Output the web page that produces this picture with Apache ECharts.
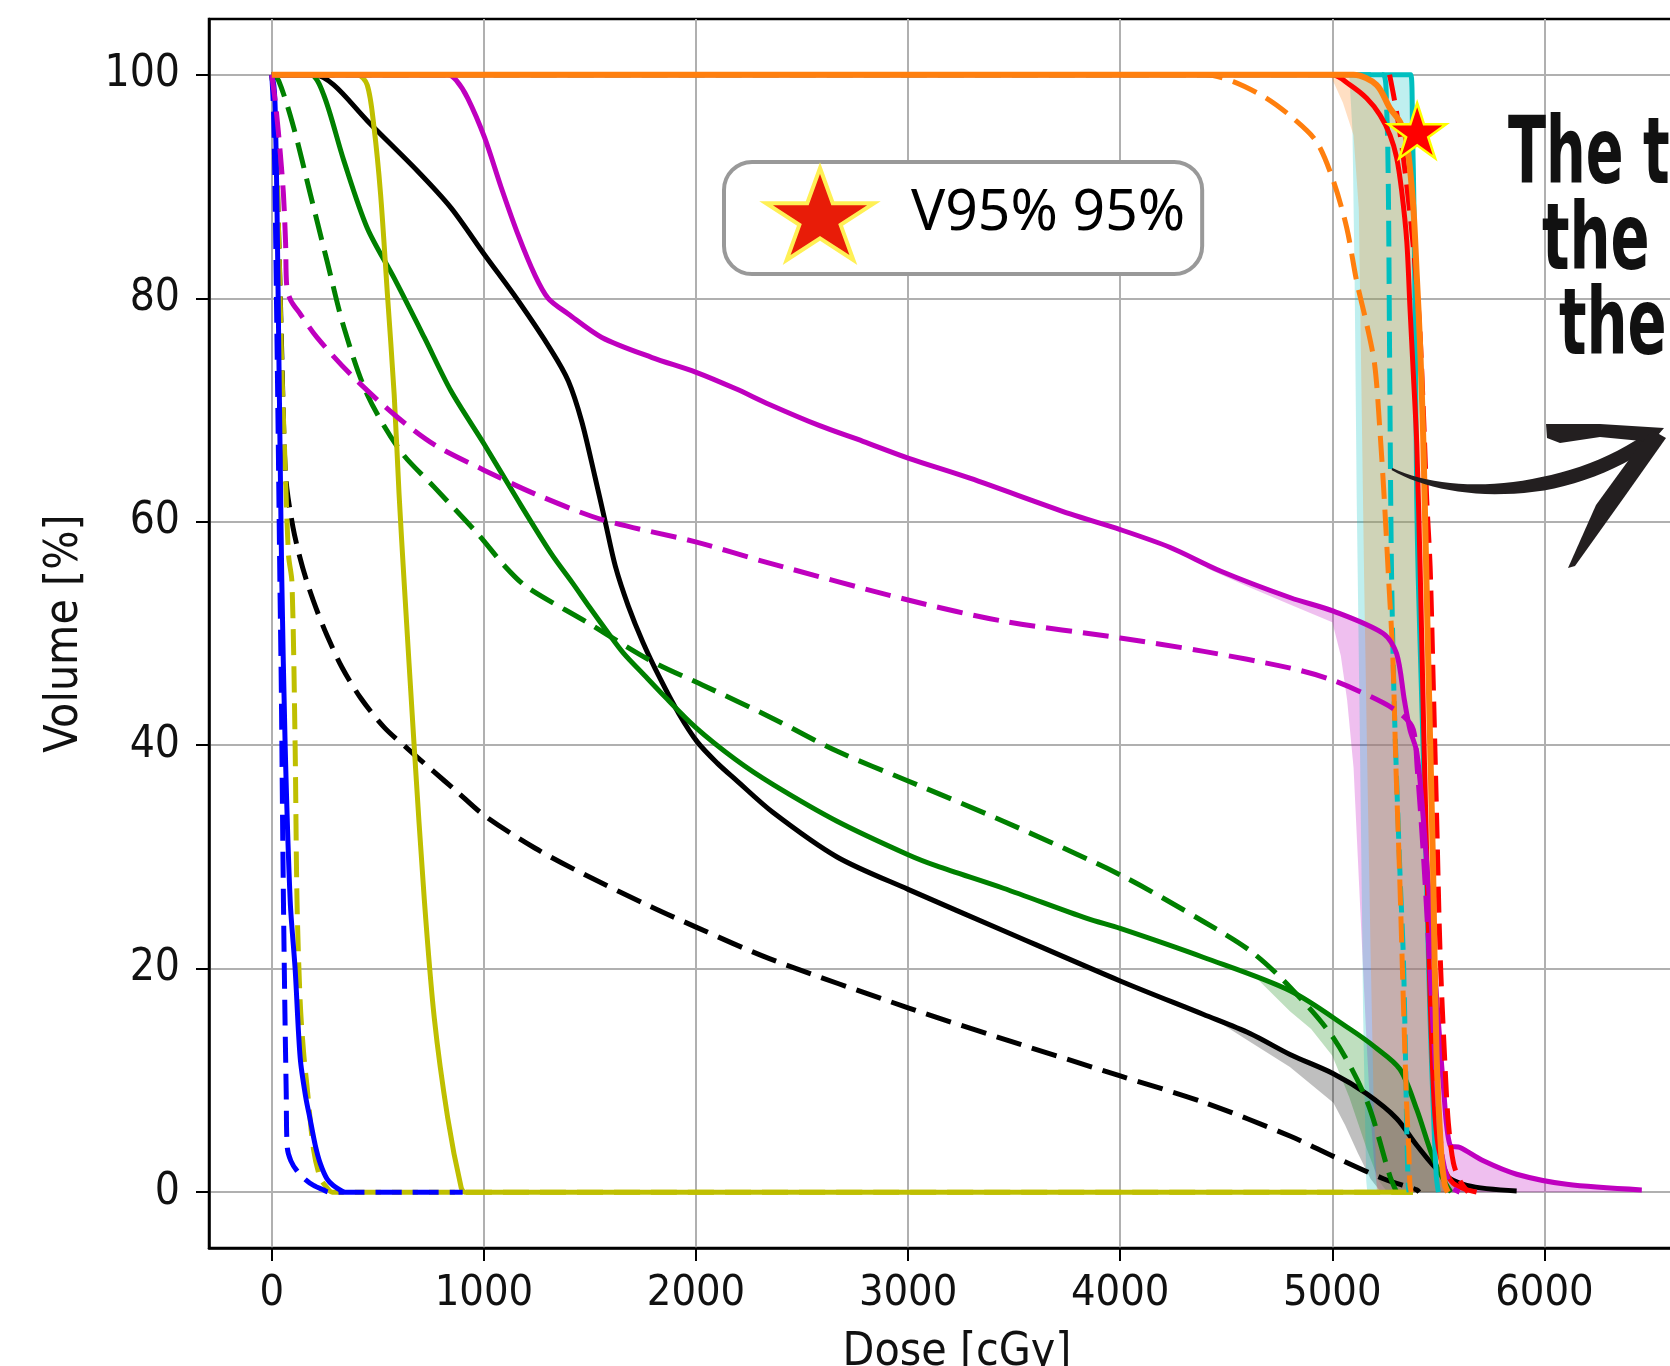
<!DOCTYPE html>
<html>
<head>
<meta charset="utf-8">
<script src="https://cdn.jsdelivr.net/npm/echarts@6/dist/echarts.min.js"></script>
<style>
  html, body { margin: 0; padding: 0; background: #fff; }
  #chart { width: 1670px; height: 1366px; }
</style>
</head>
<body>
<div id="chart"></div>
<script>
// Dose-volume histogram: dose [cGy] vs volume [%]
const xTicks = [0, 1000, 2000, 3000, 4000, 5000, 6000];
const yTicks = [0, 20, 40, 60, 80, 100];

const blueSolid = [[0,100],[10,99],[16,97],[24,89],[32,77],[40,65],[47,55],[63,40],[87,26],[110,20],[134,12],[160,8.5],[181,6.5],[205,4.2],[228,2.6],[260,1.2],[290,0.6],[340,0]];
const blueDashed = [[0,100],[8,97],[15,90],[22,80],[30,68],[38,55],[45,45],[50,35],[55,26],[62,16],[68,9],[73,4],[90,2.8],[119,1.9],[160,1.1],[197,0.6],[244,0.2],[270,0],[900,0]];
const yellowSolid = [[0,100],[403,100],[450,99.1],[482,95.3],[513,89.3],[545,80.4],[577,71.4],[600,62.5],[624,54.6],[671,40],[719,26.2],[766,15.6],[829,6.7],[893,0.4],[910,0],[5380,0]];
const yellowDashed = [[0,100],[15,97],[32,86],[47,74],[63,65],[79,57],[95,54.6],[110,40],[119,26],[134,17],[150,12.5],[166,9.5],[197,3.8],[228,1.3],[260,0.4],[285,0],[5380,0]];
const blackSolid = [[0,100],[197,100],[292,99.1],[450,95.9],[687,91.4],[845,88.1],[1003,83.9],[1161,79.8],[1319,75.3],[1398,72.6],[1461,69],[1524,64],[1572,60],[1620,56],[1680,52.5],[1750,49.2],[1830,46],[1920,42.8],[2006,40.3],[2100,38.4],[2188,36.9],[2362,34],[2665,30],[3000,27.1],[3450,23.4],[4000,18.9],[4393,15.9],[4612,14.2],[4803,12.3],[5005,10.6],[5162,8.8],[5303,6.6],[5398,4.2],[5508,1.8],[5634,0.6],[5869,0.1]];
const blackDashed = [[0,100],[15,97],[32,86],[47,75],[60,66],[71,63],[100,59.5],[130,57],[166,54.6],[210,52.2],[261,49.8],[330,47],[420,44.2],[530,41.6],[640,39.7],[760,37.7],[870,35.9],[1003,33.7],[1240,30.8],[1477,28.4],[1793,25.5],[2003,23.7],[2346,20.9],[3000,16.5],[3500,13.4],[4000,10.4],[4400,8],[4803,5],[5005,3.2],[5241,1.2],[5398,0.2],[5410,0]];
const greenSolid = [[0,100],[182,100],[245,98.2],[340,92.3],[450,86.3],[577,81.8],[719,76.5],[845,71.7],[1003,66.9],[1161,61.9],[1319,57.1],[1415,54.6],[1500,52.3],[1580,50.2],[1660,48.2],[1750,46.4],[1850,44.4],[1998,41.6],[2188,38.7],[2362,36.5],[2665,33.2],[3000,30.2],[3134,29.2],[3449,27.2],[3843,24.5],[4000,23.6],[4394,21],[4803,18],[5083,14.6],[5200,13],[5319,11],[5398,7.4],[5476,3],[5539,0.6],[5560,0]];
const greenDashed = [[0,100],[32,99.5],[103,95.3],[182,89.3],[261,83.3],[340,77.4],[450,71.4],[608,66.3],[766,63.1],[972,58.9],[1100,56],[1200,54.2],[1477,51.1],[1793,47.5],[2030,45.4],[2362,42.4],[2661,39.5],[3000,36.8],[3449,33.2],[4000,28.4],[4394,24.2],[4620,21.5],[4803,18.3],[5005,13.8],[5162,8.2],[5272,1.4],[5303,0]];
const magentaSolid = [[0,100],[830,100],[870,99.5],[924,97.9],[1003,94.4],[1082,89.9],[1161,85.7],[1240,82.1],[1303,80],[1398,78.6],[1556,76.5],[1793,74.7],[1998,73.4],[2188,71.9],[2346,70.5],[2583,68.6],[2787,67.2],[3000,65.7],[3291,63.9],[3764,60.7],[4000,59.3],[4236,57.7],[4472,55.6],[4803,53.2],[5005,52],[5240,50],[5303,48.2],[5340,44],[5366,41.4],[5398,39.4],[5429,33.4],[5461,25.4],[5492,17.4],[5524,9.4],[5555,4.2],[5602,4],[5712,2.8],[5869,1.6],[6105,0.7],[6459,0.2]];
const magentaDashed = [[0,100],[20,97],[40,93],[55,89.3],[65,85],[71,81],[90,79.8],[134,78.6],[213,76.5],[371,73.2],[577,69.6],[766,66.9],[1003,64.6],[1240,62.5],[1556,60.2],[1998,58.2],[2346,56.3],[3000,53],[3449,51.1],[4000,49.6],[4394,48.4],[4803,46.9],[5005,45.8],[5240,43.8],[5335,42.6],[5382,41.4],[5400,38],[5430,30],[5460,20],[5490,10],[5520,3],[5560,0.5],[5600,0]];
const redSolid = [[0,100],[5000,100],[5083,99.1],[5162,97.9],[5225,96.4],[5272,94.6],[5303,92.6],[5327,89.6],[5351,85.1],[5366,79.2],[5382,73.2],[5398,67],[5415,55],[5430,42],[5445,30],[5460,18],[5480,8],[5500,4],[5530,2],[5570,0.8],[5620,0.3],[5680,0]];
const redDashed = [[5270,100],[5300,97],[5335,92.6],[5380,85],[5410,78],[5429,70],[5445,62],[5461,56],[5476,45.4],[5492,33.4],[5508,21.4],[5531,11.4],[5547,6.2],[5571,2.6],[5602,1],[5640,0]];
const cyanSolid = [[0,100],[5370,100],[5378,95],[5385,88],[5392,75],[5398,62],[5405,55],[5420,45],[5435,35],[5448,25],[5460,16],[5475,8],[5490,1.5],[5500,0]];
const cyanDashed = [[0,100],[5240,100],[5256,97],[5264,90],[5270,75],[5278,57],[5290,45],[5303,37],[5320,28],[5335,21],[5345,12],[5351,5.4],[5358,0.6],[5362,0]];
const orangeSolid = [[0,100],[5100,100],[5209,99.1],[5272,97],[5319,95.8],[5351,94],[5382,88.1],[5398,82.1],[5413,76.2],[5429,67.3],[5440,58],[5459,42],[5475,29],[5491,12.5],[5514,3.3],[5530,0.7],[5545,0]];
const orangeDashed = [[0,100],[4400,100],[4533,99.4],[4690,97.9],[4816,96.1],[4926,94],[5005,90.5],[5068,86.3],[5115,81.5],[5162,77.7],[5200,74],[5225,68],[5245,62],[5265,55],[5285,48],[5300,38],[5318,28],[5335,17],[5350,8],[5360,4],[5366,0.6],[5372,0]];

// lower edges of the spread bands (upper edges follow the solid curves)
const magentaBandLow = [[4400,55.9],[4600,54.2],[4800,52.6],[5000,51],[5040,48],[5070,44],[5100,38],[5120,30],[5140,22],[5160,14],[5180,7],[5200,2],[5215,0],[6459,0]];
const greenBandLow = [[4650,19],[4800,16.2],[4900,14.6],[5000,12.2],[5080,8.5],[5160,4],[5220,1],[5260,0],[5560,0]];
const blackBandLow = [[4450,15.4],[4600,13.6],[4800,11.2],[5005,8],[5060,6],[5120,3.5],[5180,1.2],[5230,0],[5869,0]];
const cyanBandLow = [[5080,100],[5095,95],[5105,82],[5115,62],[5129,42],[5140,25],[5145,16],[5160,1],[5165,0]];
const orangeBandLow = [[4990,100],[5050,97.5],[5100,94.6],[5125,88],[5135,75],[5150,55],[5165,38],[5180,22],[5195,8],[5210,0]];

// V95% marker
const v95Point = [[5400, 95]];

const starPath = 'path://M50,0L61.23,34.55L97.55,34.55L68.17,55.9L79.39,90.45L50,69.1L20.61,90.45L31.83,55.9L2.45,34.55L38.77,34.55Z';

const C = {
  blue: '#0000ff', green: '#008000', red: '#ff0000', cyan: '#00bfbf',
  magenta: '#bf00bf', yellow: '#bfbf00', black: '#000000', orange: '#ff7f0e'
};

const LABEL_FONT = "'DejaVu Sans Condensed', 'DejaVu Sans', sans-serif";

function band(name, low, high, color) {
  const poly = low.concat(high.slice().reverse());
  return {
    type: 'custom', name: name, silent: true, clip: true,
    data: [low[0]],
    renderItem: function (params, api) {
      return {
        type: 'polygon',
        shape: { points: poly.map(function (p) { return api.coord(p); }) },
        style: { fill: color, opacity: 0.25 }
      };
    }
  };
}

function curve(name, data, color, dashed, width) {
  return {
    type: 'line', name: name, data: data, showSymbol: false, silent: true,
    animation: false, smooth: 0.3,
    lineStyle: { color: color, width: width || 5, type: dashed ? [26, 11] : 'solid', cap: 'butt', join: 'round' }
  };
}

const within = (arr, a, b) => arr.filter(p => p[0] >= a && p[0] <= b);

// hand-drawn arrow: a tapered stroke along a cubic curve plus two barbs
function arrowShaft() {
  const P = [[1392, 469], [1450, 500], [1570, 500], [1657, 434]];
  const left = [], right = [];
  const N = 30;
  for (let i = 0; i <= N; i++) {
    const t = i / N, u = 1 - t;
    const x = u*u*u*P[0][0] + 3*u*u*t*P[1][0] + 3*u*t*t*P[2][0] + t*t*t*P[3][0];
    const y = u*u*u*P[0][1] + 3*u*u*t*P[1][1] + 3*u*t*t*P[2][1] + t*t*t*P[3][1];
    const dx = 3*u*u*(P[1][0]-P[0][0]) + 6*u*t*(P[2][0]-P[1][0]) + 3*t*t*(P[3][0]-P[2][0]);
    const dy = 3*u*u*(P[1][1]-P[0][1]) + 6*u*t*(P[2][1]-P[1][1]) + 3*t*t*(P[3][1]-P[2][1]);
    const len = Math.sqrt(dx*dx + dy*dy) || 1;
    const w = 1 + 6 * Math.min(1, t * 1.6);
    left.push([x - dy / len * w, y + dx / len * w]);
    right.push([x + dy / len * w, y - dx / len * w]);
  }
  return left.concat(right.reverse());
}

const chart = echarts.init(document.getElementById('chart'));
chart.setOption({
  animation: false,
  backgroundColor: '#ffffff',
  grid: {
    left: 209, top: 19, width: 1496, height: 1229,
    outerBoundsMode: 'none', containLabel: false,
    show: true, borderColor: '#000', borderWidth: 2.5, backgroundColor: 'transparent'
  },
  xAxis: {
    type: 'value', min: -296, max: 6757,
    name: 'Dose [cGy]', nameLocation: 'middle', nameGap: 82,
    nameTextStyle: { fontFamily: LABEL_FONT, fontSize: 46, color: '#111' },
    axisLine: { show: true, onZero: false, lineStyle: { color: '#000', width: 2.5 } },
    axisTick: { show: true, length: 13, lineStyle: { color: '#000', width: 2 }, customValues: xTicks },
    axisLabel: { fontFamily: LABEL_FONT, fontSize: 43, color: '#111', margin: 24, customValues: xTicks, formatter: v => String(v) },
    splitLine: { show: true, lineStyle: { color: '#b0b0b0', width: 2 } }
  },
  yAxis: {
    type: 'value', min: -5, max: 105,
    name: 'Volume [%]', nameLocation: 'middle', nameGap: 121, nameRotate: 90,
    nameTextStyle: { fontFamily: LABEL_FONT, fontSize: 46, color: '#111' },
    axisLine: { show: true, onZero: false, lineStyle: { color: '#000', width: 2.5 } },
    axisTick: { show: true, length: 13, lineStyle: { color: '#000', width: 2 }, customValues: yTicks },
    axisLabel: { fontFamily: LABEL_FONT, fontSize: 44, color: '#111', margin: 29, customValues: yTicks, formatter: v => String(v) },
    splitLine: { show: true, lineStyle: { color: '#b0b0b0', width: 2 } }
  },
  legend: {
    left: 724, top: 162, orient: 'horizontal', selectedMode: false,
    padding: [4, 17, 12, 40],
    backgroundColor: '#ffffff', borderColor: '#999999', borderWidth: 4, borderRadius: 28,
    itemWidth: 108, itemHeight: 92, symbolKeepAspect: false,
    data: [{ name: 'V95% 95%', icon: starPath, itemStyle: { color: '#e81c08', borderColor: '#fff055', borderWidth: 4, opacity: 1 } }],
    textStyle: { fontFamily: "'Noto Sans', 'Open Sans', sans-serif", fontSize: 57, color: '#000', padding: [7, 0, 0, 32] }
  },
  graphic: [
    { type: 'text', x: 1508, y: 112, scaleX: 0.6, z: 100,
      style: { text: 'The t', fontFamily: 'DejaVu Sans', fontWeight: 'bold', fontSize: 93, fill: '#111', align: 'left', verticalAlign: 'top' } },
    { type: 'text', x: 1542, y: 198, scaleX: 0.62, z: 100,
      style: { text: 'the', fontFamily: 'DejaVu Sans', fontWeight: 'bold', fontSize: 93, fill: '#111', align: 'left', verticalAlign: 'top' } },
    { type: 'text', x: 1559, y: 283, scaleX: 0.62, z: 100,
      style: { text: 'the', fontFamily: 'DejaVu Sans', fontWeight: 'bold', fontSize: 93, fill: '#111', align: 'left', verticalAlign: 'top' } },
    { type: 'polygon', z: 100, shape: { points: arrowShaft() }, style: { fill: '#231f20' } },
    { type: 'polygon', z: 100, shape: { points: [[1546,424],[1600,424],[1664,428],[1652,442],[1600,437],[1560,443],[1547,438]] }, style: { fill: '#231f20' } },
    { type: 'polygon', z: 100, shape: { points: [[1652,430],[1666,438],[1625,496],[1575,566],[1568,568],[1596,505],[1636,450]] }, style: { fill: '#231f20' } }
  ],
  series: [
    band('black band', blackBandLow, within(blackSolid, 4450, 6000), C.black),
    band('green band', greenBandLow, within(greenSolid, 4650, 6000), C.green),
    band('magenta band', magentaBandLow, within(magentaSolid, 4400, 6500), C.magenta),
    band('cyan band', cyanBandLow, within(cyanSolid, 5080, 6000), C.cyan),
    band('orange band', orangeBandLow, within(orangeSolid, 4990, 6000), C.orange),
    curve('black dashed', blackDashed, C.black, true),
    curve('black', blackSolid, C.black, false),
    curve('green dashed', greenDashed, C.green, true),
    curve('green', greenSolid, C.green, false),
    curve('yellow', yellowSolid, C.yellow, false),
    curve('yellow dashed', yellowDashed, C.yellow, true),
    curve('blue', blueSolid, C.blue, false),
    curve('blue dashed', blueDashed, C.blue, true),
    curve('cyan dashed', cyanDashed, C.cyan, true),
    curve('orange dashed', orangeDashed, C.orange, true),
    curve('cyan', cyanSolid, C.cyan, false),
    curve('red', redSolid, C.red, false),
    curve('magenta dashed', magentaDashed, C.magenta, true),
    curve('magenta', magentaSolid, C.magenta, false),
    curve('red dashed', redDashed, C.red, true),
    curve('orange', orangeSolid, C.orange, false, 6),
    {
      type: 'scatter', name: 'V95% 95%', data: v95Point, symbol: starPath, symbolSize: [58, 55],
      itemStyle: { color: '#ff0000', borderColor: '#ffff00', borderWidth: 2.5, opacity: 1 }, z: 10, silent: true
    }
  ]
});
</script>
</body>
</html>
